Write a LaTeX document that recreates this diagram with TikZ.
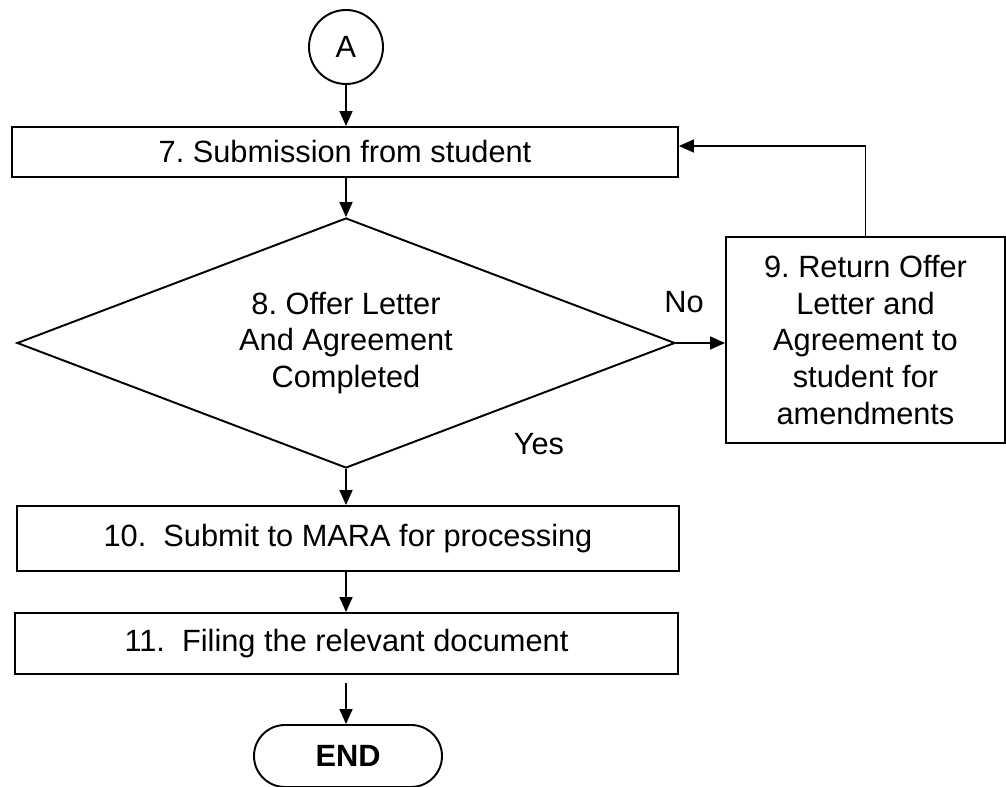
\documentclass[tikz,border=0pt]{standalone}
\usepackage{fontspec}
\setmainfont{Liberation Sans}
\usetikzlibrary{shapes.geometric,shapes.misc,arrows.meta}
\newcommand{\taille}{\fontsize{17.5}{20.8}\selectfont}
\newcommand{\xc}{6.92}
\tikzstyle{bord}=[line width=1.1pt]
\tikzstyle{boite}=[draw,bord,rectangle,inner sep=0,align=center]
\tikzstyle{losange}=[draw,bord,diamond,aspect=2.63,inner sep=0,align=center,minimum width=13.16cm,minimum height=5cm]
\tikzstyle{rond}=[draw,bord,circle,inner sep=0,minimum size=1.48cm]
\tikzstyle{fin}=[draw,bord,rounded rectangle,inner sep=0,minimum width=3.76cm,minimum height=1.24cm,font=\taille\bfseries]
\tikzstyle{fleche}=[line width=1pt,-{Triangle[length=0.3cm,width=0.26cm]}]
\begin{document}
\frenchspacing
\begin{tikzpicture}[font=\taille]
\useasboundingbox (0,0) rectangle (20.12,15.72);

\node[rond] (A) at (\xc,14.78) {A};
\node[boite,minimum width=13.32cm,minimum height=1cm] (s7) at (6.90,12.68) {7. Submission from student};
\node[losange] (s8) at (\xc,8.86) {8. Offer Letter\\And Agreement\\Completed};
\node[boite,minimum width=5.58cm,minimum height=4.12cm] (s9) at (17.31,8.92)
  {9. Return Offer\\Letter and\\Agreement to\\student for\\amendments};
\node[boite,minimum width=13.24cm,minimum height=1.3cm] (s10) at (6.96,4.95) {10.\ \ Submit to MARA for processing};
\node[boite,minimum width=13.26cm,minimum height=1.22cm] (s11) at (6.93,2.85) {11.\ \ Filing the relevant document};
\node[fin] (end) at (6.96,0.60) {END};

%labels
\node (non) at (13.68,9.68) {No};
\node (oui) at (10.78,6.84) {Yes};

%fleches
\draw[fleche] (A) -- (A |- s7.north);
\draw[fleche] (s7.south -| A) -- (s8.north);
\draw[fleche] (s8.south) -- (s8 |- s10.north);
\draw[fleche] (s10.south -| s8) -- (s8 |- s11.north);
\draw[fleche,shorten <=0.16cm] (s11.south -| s8) -- (s8 |- end.north);
\draw[fleche] (s8.east) -- (s8.east -| s9.west);
\draw[fleche] (s9.north) |- ([yshift=0.12cm]s7.east);
\end{tikzpicture}
\end{document}
